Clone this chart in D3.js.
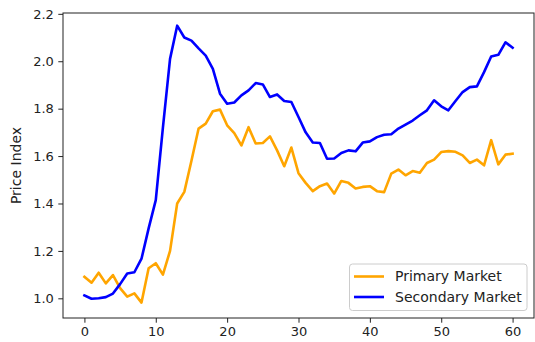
<!DOCTYPE html>
<html>
<head>
<meta charset="utf-8">
<script src="https://cdn.jsdelivr.net/npm/d3@7"></script>
<style>
  body { margin: 0; background: #fff; }
  svg { display: block; font-family: "DejaVu Sans", sans-serif; }
</style>
</head>
<body>
<svg id="chart" width="535" height="342"></svg>
<script>
// values, index 0..60
const primary = [
  1.091, 1.066, 1.108, 1.063, 1.098, 1.043, 1.007, 1.021, 0.982, 1.127,
  1.148, 1.100, 1.200, 1.400, 1.449, 1.580, 1.716, 1.737, 1.789, 1.796,
  1.730, 1.697, 1.645, 1.722, 1.653, 1.655, 1.683, 1.624, 1.557, 1.636,
  1.528, 1.487, 1.452, 1.473, 1.484, 1.442, 1.495, 1.487, 1.463, 1.470,
  1.473, 1.452, 1.448, 1.526, 1.543, 1.519, 1.537, 1.530, 1.571, 1.585,
  1.617, 1.621, 1.618, 1.603, 1.571, 1.585, 1.561, 1.667, 1.565, 1.606,
  1.610
];
const secondary = [
  1.012, 0.998, 1.000, 1.005, 1.020, 1.060, 1.105, 1.110, 1.167, 1.295,
  1.414, 1.720, 2.010, 2.150, 2.100, 2.087, 2.054, 2.024, 1.968, 1.863,
  1.821, 1.826, 1.856, 1.877, 1.908, 1.902, 1.849, 1.860, 1.832, 1.828,
  1.765, 1.700, 1.657, 1.655, 1.589, 1.590, 1.613, 1.624, 1.620, 1.657,
  1.662, 1.680, 1.690, 1.692, 1.716, 1.733, 1.750, 1.772, 1.793, 1.835,
  1.810, 1.793, 1.832, 1.870, 1.891, 1.894, 1.954, 2.020, 2.027, 2.080,
  2.057
];
const seriesNames = ["Primary Market", "Secondary Market"];
const seriesColors = ["orange", "blue"];
const xTicks = [0, 10, 20, 30, 40, 50, 60];
const yTicks = [1.0, 1.2, 1.4, 1.6, 1.8, 2.0, 2.2];

const svg = d3.select("#chart");
const margin = { left: 63, right: 1, top: 13, bottom: 24 };
const width = +svg.attr("width"), height = +svg.attr("height");

const x = d3.scaleLinear().domain([-3, 63]).range([margin.left, width - margin.right]);
const y = d3.scaleLinear().domain([0.917, 2.2035]).range([height - margin.bottom, margin.top]);

const tickFont = 13;
const labelFont = 14;

// axes
const xAxis = svg.append("g")
  .attr("transform", `translate(0,${height - margin.bottom})`)
  .call(d3.axisBottom(x).tickValues(xTicks).tickSize(4.7).tickPadding(4.5).tickFormat(d3.format("d")));
const yAxis = svg.append("g")
  .attr("transform", `translate(${margin.left},0)`)
  .call(d3.axisLeft(y).tickValues(yTicks).tickSize(4.7).tickPadding(4.5).tickFormat(d3.format(".1f")));

[xAxis, yAxis].forEach(g => {
  g.select(".domain").remove();
  g.selectAll("text").attr("font-size", tickFont).attr("fill", "#222").attr("font-family", "DejaVu Sans");
  g.selectAll("line").attr("stroke", "#222").attr("stroke-width", 1);
});

// lines
const line = d3.line().x((d, i) => x(i)).y(d => y(d));
[primary, secondary].forEach((s, k) => {
  svg.append("path")
    .datum(s)
    .attr("fill", "none")
    .attr("stroke", seriesColors[k])
    .attr("stroke-width", 2.6)
    .attr("stroke-linejoin", "round")
    .attr("stroke-linecap", "square")
    .attr("d", line);
});

// frame
svg.append("rect")
  .attr("x", margin.left).attr("y", margin.top)
  .attr("width", width - margin.right - margin.left)
  .attr("height", height - margin.bottom - margin.top)
  .attr("fill", "none").attr("stroke", "#222").attr("stroke-width", 1);

// y label
svg.append("text")
  .attr("transform", `translate(21,${(margin.top + height - margin.bottom) / 2}) rotate(-90)`)
  .attr("text-anchor", "middle")
  .attr("font-size", labelFont)
  .attr("fill", "#222")
  .text("Price Index");

// legend
const legend = svg.append("g");
legend.append("rect")
  .attr("x", 349.5).attr("y", 264).attr("width", 177.5).attr("height", 46.5)
  .attr("rx", 3)
  .attr("fill", "#fff").attr("fill-opacity", 0.8)
  .attr("stroke", "#ccc");
seriesNames.forEach((name, k) => {
  const cy = 276.5 + k * 20.5;
  legend.append("line")
    .attr("x1", 354).attr("x2", 384).attr("y1", cy).attr("y2", cy)
    .attr("stroke", seriesColors[k]).attr("stroke-width", 2.6);
  legend.append("text")
    .attr("x", 395).attr("y", cy).attr("dy", "0.35em")
    .attr("font-size", labelFont).attr("fill", "#222")
    .text(name);
});
</script>
</body>
</html>
